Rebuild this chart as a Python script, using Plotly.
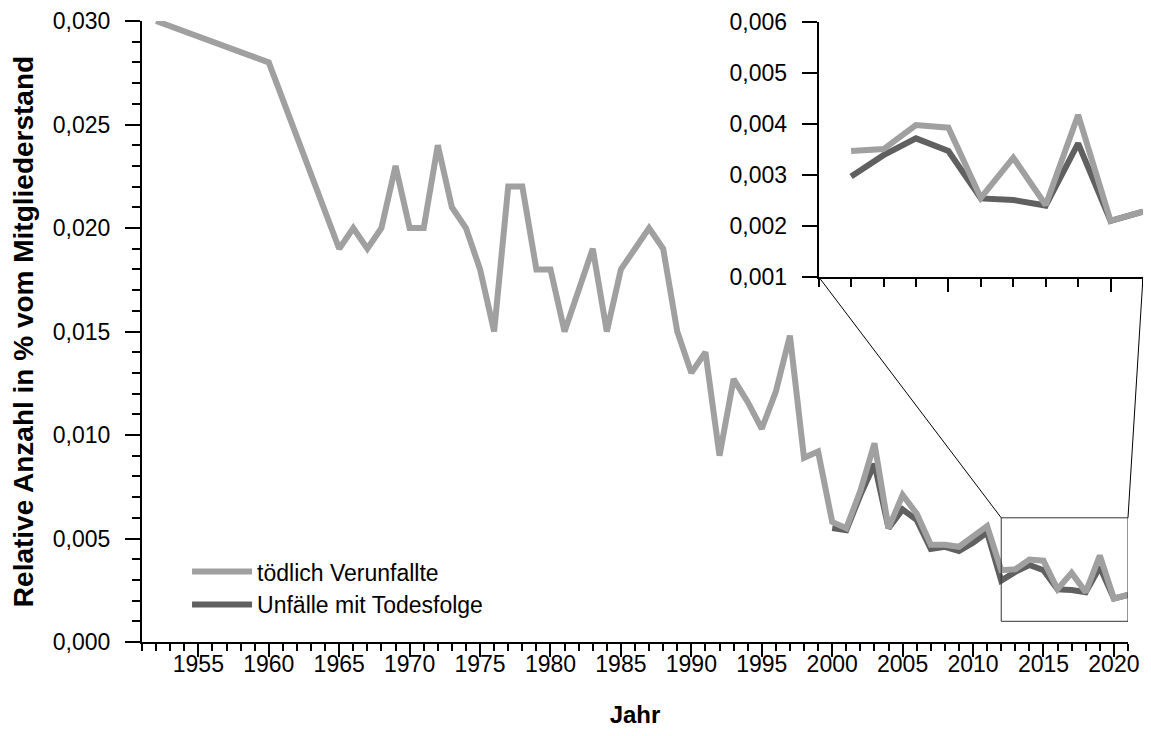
"""
Relative Anzahl tödlich Verunfallter / Unfälle mit Todesfolge, mit Zoom-Inset 2012-2021.
"""

import pandas as pd
import plotly.graph_objects as go

# tödlich Verunfallte (hellgrau)
years_tv = [1952, 1960, 1965, 1966, 1967, 1968, 1969, 1970, 1971, 1972, 1973, 1974,
            1975, 1976, 1977, 1978, 1979, 1980, 1981, 1982, 1983, 1984, 1985, 1986,
            1987, 1988, 1989, 1990, 1991, 1992, 1993, 1994, 1995, 1996, 1997, 1998,
            1999, 2000, 2001, 2002, 2003, 2004, 2005, 2006, 2007, 2008, 2009, 2010,
            2011, 2012, 2013, 2014, 2015, 2016, 2017, 2018, 2019, 2020, 2021]
values_tv = [0.0300, 0.0280, 0.0190, 0.0200, 0.0190, 0.0200, 0.0230, 0.0200, 0.0200, 0.0240,
             0.0210, 0.0200, 0.0180, 0.0150, 0.0220, 0.0220, 0.0180, 0.0180, 0.0150, 0.0170,
             0.0190, 0.0150, 0.0180, 0.0190, 0.0200, 0.0190, 0.0150, 0.0130, 0.0140, 0.0090,
             0.0127, 0.0116, 0.0103, 0.0121, 0.0148, 0.0089, 0.0092, 0.0058, 0.0055, 0.0073,
             0.0096, 0.0055, 0.0071, 0.0062, 0.0047, 0.0047, 0.0046, 0.0051, 0.0056, 0.00347,
             0.00351, 0.00398, 0.00393, 0.00255, 0.00334, 0.00241, 0.00418, 0.00210, 0.00228]

# Unfälle mit Todesfolge (dunkelgrau)
years_ut = [2000, 2001, 2002, 2003, 2004, 2005, 2006, 2007, 2008, 2009, 2010, 2011,
            2012, 2013, 2014, 2015, 2016, 2017, 2018, 2019, 2020, 2021]
values_ut = [0.0055, 0.0054, 0.0071, 0.0086, 0.0055, 0.0064, 0.0059, 0.0045, 0.0046, 0.0044,
             0.0048, 0.0053, 0.00297, 0.00339, 0.00372, 0.00347, 0.00254, 0.00251, 0.00240,
             0.00362, 0.00210, 0.00228]

ZOOM_YEARS = (2012, 2021)
ZOOM_VALUES = (0.001, 0.006)

LIGHT = "#a0a0a0"
DARK = "#606060"
FONT = "Liberation Sans, Arial, sans-serif"

tv = pd.DataFrame({"year": years_tv, "value": values_tv})
ut = pd.DataFrame({"year": years_ut, "value": values_ut})
tv_zoom = tv[tv["year"] >= ZOOM_YEARS[0]]
ut_zoom = ut[ut["year"] >= ZOOM_YEARS[0]]

# axis geometry (paper fractions)
X_MAIN = [0.0, 0.985]
Y_MAIN = [0.0, 1.0]
X_MAIN_RANGE = [1951, 2021]
Y_MAIN_RANGE = [0, 0.030]
X_INS = [0.676, 1.0]
Y_INS = [0.588, 0.998]
X_INS_RANGE = [2011, 2021]
Y_INS_RANGE = [0.001, 0.006]


def to_paper(v, dom, rng):
    return dom[0] + (v - rng[0]) / (rng[1] - rng[0]) * (dom[1] - dom[0])


fig = go.Figure()

fig.add_trace(go.Scatter(
    x=ut["year"], y=ut["value"], mode="lines", name="Unfälle mit Todesfolge",
    line=dict(color=DARK, width=6), legendrank=2,
))
fig.add_trace(go.Scatter(
    x=tv["year"], y=tv["value"], mode="lines", name="tödlich Verunfallte",
    line=dict(color=LIGHT, width=6), legendrank=1,
))

# inset
fig.add_trace(go.Scatter(
    x=ut_zoom["year"], y=ut_zoom["value"], mode="lines", showlegend=False,
    line=dict(color=DARK, width=6), xaxis="x2", yaxis="y2",
))
fig.add_trace(go.Scatter(
    x=tv_zoom["year"], y=tv_zoom["value"], mode="lines", showlegend=False,
    line=dict(color=LIGHT, width=6), xaxis="x2", yaxis="y2",
))

# zoom box in main chart
fig.add_shape(type="rect", xref="x", yref="y",
              x0=ZOOM_YEARS[0], x1=ZOOM_YEARS[1], y0=ZOOM_VALUES[0], y1=ZOOM_VALUES[1],
              line=dict(color="#333333", width=1), layer="above")

# connectors: box top corners -> inset bottom corners
bx0 = to_paper(ZOOM_YEARS[0], X_MAIN, X_MAIN_RANGE)
bx1 = to_paper(ZOOM_YEARS[1], X_MAIN, X_MAIN_RANGE)
by1 = to_paper(ZOOM_VALUES[1], Y_MAIN, Y_MAIN_RANGE)
for bx, ix in [(bx0, X_INS[0]), (bx1, X_INS[1])]:
    fig.add_shape(type="line", xref="paper", yref="paper",
                  x0=bx, y0=by1, x1=ix, y1=Y_INS[0],
                  line=dict(color="black", width=1), layer="above")

axis_common = dict(
    showline=True, linecolor="black", linewidth=2, ticks="outside",
    tickcolor="black", tickwidth=2, showgrid=False, zeroline=False, automargin=False,
    tickfont=dict(family=FONT, size=23, color="black"),
)

# the page body has an 8px margin: keep the figure inside the window
fig.update_layout(
    width=1135, height=720,
    separators=",.",
    plot_bgcolor="white", paper_bgcolor="white",
    margin=dict(l=134, r=0, t=13, b=86),
    font=dict(family=FONT, color="black"),
    xaxis=dict(
        domain=X_MAIN, range=X_MAIN_RANGE, tick0=1955, dtick=5, ticklen=13, ticklabelstandoff=-13,
        minor=dict(ticks="outside", dtick=1, tick0=1951, ticklen=7, tickwidth=2, tickcolor="black"),
        title=dict(text="<b>Jahr</b>", font=dict(family=FONT, size=24), standoff=33),
        anchor="y", **axis_common,
    ),
    yaxis=dict(
        domain=Y_MAIN, range=Y_MAIN_RANGE, tick0=0, dtick=0.005, tickformat=".3f", ticklen=15,
        ticklabelstandoff=10,
        minor=dict(ticks="outside", dtick=0.001, ticklen=8, tickwidth=2, tickcolor="black"),
        title=dict(text="<b>Relative Anzahl in % vom Mitgliederstand</b>",
                   font=dict(family=FONT, size=28), standoff=20),
        anchor="x", **axis_common,
    ),
    xaxis2=dict(
        domain=X_INS, range=X_INS_RANGE, tick0=2015, dtick=5, ticklen=13, showticklabels=False,
        minor=dict(ticks="outside", dtick=1, tick0=2011, ticklen=8, tickwidth=2, tickcolor="black"),
        anchor="y2", **axis_common,
    ),
    yaxis2=dict(
        domain=Y_INS, range=Y_INS_RANGE, tick0=0.001, dtick=0.001, tickformat=".3f", ticklen=15,
        ticklabelstandoff=10,
        anchor="x2", **axis_common,
    ),
    legend=dict(
        x=0.045, y=0.148, xanchor="left", yanchor="top", itemwidth=60,
        font=dict(family=FONT, size=23, color="black"),
        bgcolor="rgba(0,0,0,0)", tracegroupgap=0,
    ),
)

fig.write_html("out.html")
